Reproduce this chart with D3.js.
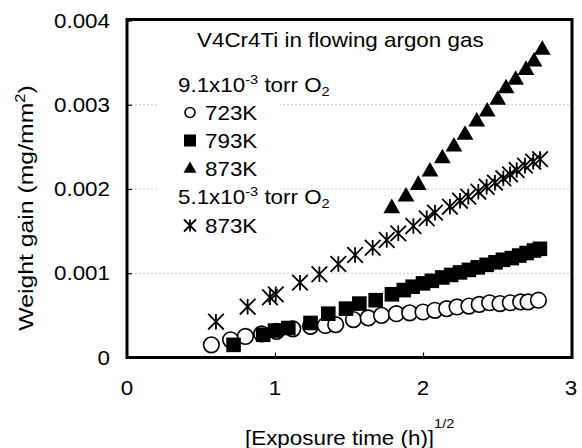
<!DOCTYPE html>
<html><head><meta charset="utf-8">
<script src="https://cdn.jsdelivr.net/npm/d3@7"></script>
<style>body{margin:0;background:#fff}svg{display:block}text{font-family:"Liberation Sans",Arial,sans-serif;fill:#000}</style>
</head><body><svg id="c" width="582" height="448"></svg>
<script>
// ---- data (weight gain in mg/mm^2, x = sqrt(exposure time in h)) ----
const xTicks = [0, 1, 2, 3];
const yTicks = [0, 0.001, 0.002, 0.003, 0.004];
const yTickLabels = ["0", "0.001", "0.002", "0.003", "0.004"];
const c723X = [0.57,0.70,0.80,0.91,1.01,1.12,1.24,1.34,1.41,1.53,1.63,1.72,1.82,1.91,2.00,2.08,2.16,2.23,2.31,2.38,2.45,2.52,2.59,2.66,2.71,2.78];
const c723Y = [0.15,0.21,0.25,0.28,0.31,0.34,0.37,0.38,0.39,0.45,0.47,0.50,0.52,0.53,0.54,0.56,0.58,0.60,0.61,0.63,0.65,0.64,0.65,0.66,0.66,0.68].map(v=>v*1e-3);
const s793X = [0.72,0.92,1.00,1.09,1.24,1.36,1.48,1.57,1.68,1.79,1.87,1.93,2.00,2.06,2.13,2.19,2.25,2.31,2.37,2.43,2.49,2.54,2.60,2.65,2.70,2.75,2.79];
const s793Y = [0.15,0.27,0.32,0.35,0.41,0.52,0.58,0.64,0.68,0.75,0.80,0.84,0.88,0.91,0.95,0.98,1.01,1.04,1.07,1.10,1.13,1.16,1.18,1.21,1.24,1.27,1.29].map(v=>v*1e-3);
const t873X = [1.789,1.885,1.968,2.047,2.131,2.209,2.284,2.363,2.434,2.505,2.561,2.626,2.696,2.750,2.806];
const t873Y = [1.771,1.909,2.047,2.205,2.364,2.502,2.641,2.799,2.918,3.056,3.195,3.294,3.412,3.511,3.650].map(v=>v*1e-3);
const a873X = [0.601,0.815,0.966,1.005,1.169,1.300,1.428,1.541,1.660,1.755,1.833,1.935,2.025,2.081,2.182,2.250,2.306,2.374,2.430,2.486,2.543,2.588,2.633,2.689,2.745,2.791];
const a873Y = [0.425,0.603,0.715,0.750,0.888,0.988,1.110,1.217,1.303,1.395,1.474,1.561,1.652,1.719,1.790,1.861,1.909,1.968,2.027,2.075,2.127,2.174,2.225,2.277,2.324,2.355].map(v=>v*1e-3);

const svg = d3.select("#c");
const L=127, R=571, T=20.5, B=357.5;
const x = d3.scaleLinear().domain([0,3]).range([L,R]);
const y = d3.scaleLinear().domain([0,0.004]).range([B,T]);
const SX = 1.12, FS = 20;

// gridlines
svg.append("g").selectAll("line").data(yTicks.filter(v=>v>0&&v<0.004)).join("line")
  .attr("x1",L).attr("x2",R).attr("y1",d=>y(d)).attr("y2",d=>y(d))
  .attr("stroke","#c8c8c8").attr("stroke-width",1).attr("stroke-dasharray","2,2");
// legend background (hides gridlines behind legend)
svg.append("rect").attr("x",157).attr("y",58).attr("width",123).attr("height",186).attr("fill","#fff");

// axes with inward ticks
const yAxis = d3.axisLeft(y).tickValues(yTicks).tickSize(-5).tickFormat("");
const xAxis = d3.axisBottom(x).tickValues(xTicks).tickSize(-5).tickFormat("");
svg.append("g").attr("transform",`translate(${L},0)`).call(yAxis).call(g=>{g.select(".domain").remove();g.selectAll("line").attr("stroke","#000").attr("stroke-width",1.2);});
svg.append("g").attr("transform",`translate(0,${B})`).call(xAxis).call(g=>{g.select(".domain").remove();g.selectAll("line").attr("stroke","#000").attr("stroke-width",1.2);});

// frame
svg.append("rect").attr("x",L).attr("y",T-1).attr("width",R-L+1).attr("height",B-T+1)
  .attr("fill","none").attr("stroke","#000").attr("stroke-width",3);

function stext(px, py, anchor, size){
  return svg.append("text").attr("transform",`translate(${px},${py}) scale(${SX},1)`)
    .attr("text-anchor",anchor).attr("font-size",size||FS);
}
// tick labels
yTicks.forEach((v,i)=>stext(110, y(v)+7, "end").text(yTickLabels[i]));
xTicks.forEach(v=>stext(x(v), 395, "middle").text(String(v)));

// axis titles
const xl = stext(245, 445, "start");
xl.append("tspan").text("[Exposure time (h)]");
xl.append("tspan").attr("dy",-17).attr("font-size",13).text("1/2");
const yl = svg.append("text").attr("transform","translate(33,208) rotate(-90) scale(1.18,1)")
  .attr("text-anchor","middle").attr("font-size",21);
yl.append("tspan").text("Weight gain (mg/mm");
yl.append("tspan").attr("dy",-8).attr("font-size",14).text("2");
yl.append("tspan").attr("dy",8).text(")");

// title & legend text
stext(197, 47, "start").text("V4Cr4Ti in flowing argon gas");
const l1 = stext(178, 92, "start");
l1.append("tspan").text("9.1x10");
l1.append("tspan").attr("dy",-8).attr("font-size",13).text("-3");
l1.append("tspan").attr("dy",8).text(" torr O");
l1.append("tspan").attr("dy",4).attr("font-size",13).text("2");
const l2 = stext(178, 204, "start");
l2.append("tspan").text("5.1x10");
l2.append("tspan").attr("dy",-8).attr("font-size",13).text("-3");
l2.append("tspan").attr("dy",8).text(" torr O");
l2.append("tspan").attr("dy",4).attr("font-size",13).text("2");
const legendRows = [
  {label:"723K", y:119.5, kind:"circle"},
  {label:"793K", y:147.5, kind:"square"},
  {label:"873K", y:176, kind:"triangle"},
  {label:"873K", y:232.5, kind:"aster"}
];
legendRows.forEach(r=>stext(205, r.y, "start").text(r.label));

// marker drawing
function asterPath(s){
  const h=s/2;
  return `M${-h},${-h}L${h},${h}M${-h},${h}L${h},${-h}M0,${-h}L0,${h}`;
}
function drawMarks(kind, xs, ys, g, size){
  const pts = xs.map((v,i)=>[v, ys[i]]);
  const sel = g.selectAll(null).data(pts).join("path")
    .attr("transform",d=>`translate(${x(d[0])},${y(d[1])})`);
  styleMark(sel, kind, size);
}
function styleMark(sel, kind, size){
  if(kind==="circle") sel.attr("d",d3.symbol(d3.symbolCircle, Math.PI*size*size)).attr("fill","#fff").attr("stroke","#000").attr("stroke-width",1.6);
  if(kind==="square") sel.attr("d",`M${-size},${-size}h${2*size}v${2*size}h${-2*size}Z`).attr("fill","#000");
  if(kind==="triangle") sel.attr("d",d3.symbol(d3.symbolTriangle, Math.sqrt(3)/4*(2.15*size)*(2.15*size))).attr("fill","#000");
  if(kind==="aster") sel.attr("d",asterPath(2*size)).attr("fill","none").attr("stroke","#000").attr("stroke-width",1.8);
}
const gm = svg.append("g");
drawMarks("circle", c723X, c723Y, gm, 7.8);
drawMarks("square", s793X, s793Y, gm, 7.3);
drawMarks("aster", a873X, a873Y, gm, 7.8);
drawMarks("triangle", t873X, t873Y, gm, 7.8);

// legend markers
const lg = svg.append("g");
legendRows.forEach(r=>{
  const sz = {circle:5, square:6, triangle:6, aster:6}[r.kind];
  const p = lg.append("path").attr("transform",`translate(190,${r.y-7})`);
  styleMark(p, r.kind, sz);
});
</script></body></html>
